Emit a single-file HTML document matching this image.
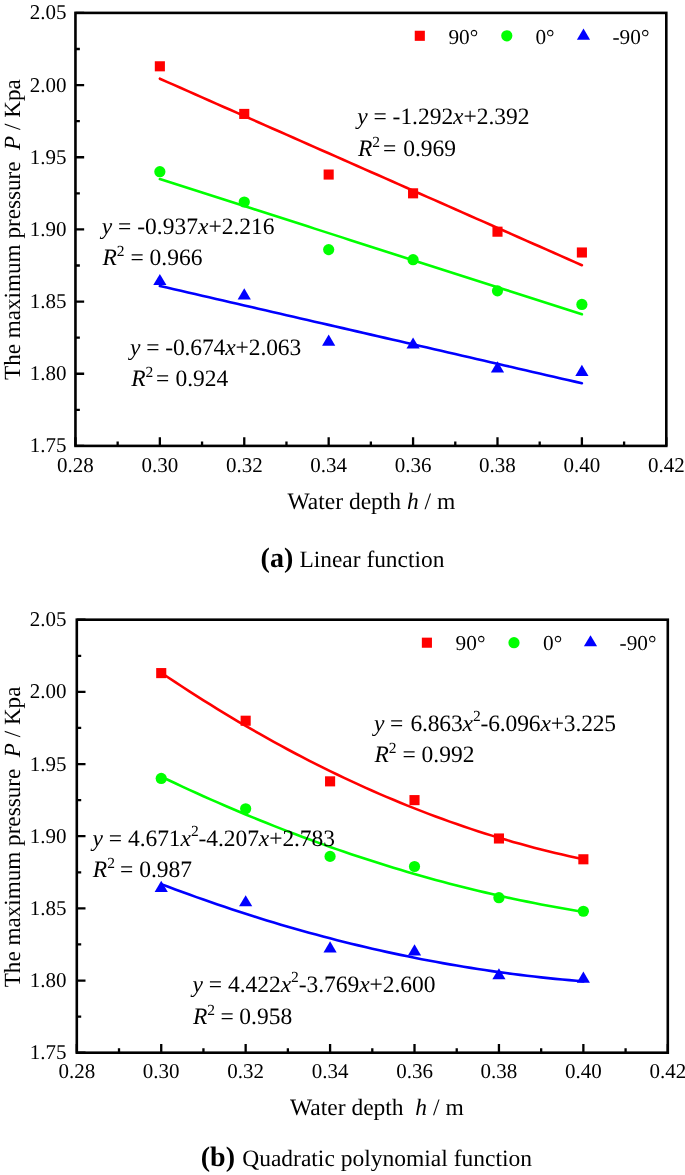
<!DOCTYPE html>
<html><head><meta charset="utf-8"><title>Chart</title><style>
html,body{margin:0;padding:0;background:#fff;}
body{width:685px;height:1175px;overflow:hidden;}
svg{display:block;will-change:transform;}
text{font-family:"Liberation Serif",serif;fill:#000;text-rendering:geometricPrecision;}
</style></head><body>
<svg width="685" height="1175" viewBox="0 0 685 1175">
<rect width="685" height="1175" fill="#fff"/>
<polyline points='159.86,78.72 166.89,81.82 173.92,84.93 180.96,88.04 187.99,91.15 195.03,94.26 202.06,97.36 209.09,100.47 216.13,103.58 223.16,106.69 230.20,109.80 237.23,112.90 244.26,116.01 251.30,119.12 258.33,122.23 265.37,125.34 272.40,128.44 279.43,131.55 286.47,134.66 293.50,137.77 300.54,140.88 307.57,143.98 314.60,147.09 321.64,150.20 328.67,153.31 335.71,156.42 342.74,159.52 349.77,162.63 356.81,165.74 363.84,168.85 370.87,171.96 377.91,175.06 384.94,178.17 391.98,181.28 399.01,184.39 406.04,187.50 413.08,190.60 420.11,193.71 427.15,196.82 434.18,199.93 441.21,203.04 448.25,206.14 455.28,209.25 462.32,212.36 469.35,215.47 476.38,218.58 483.42,221.68 490.45,224.79 497.49,227.90 504.52,231.01 511.55,234.11 518.59,237.22 525.62,240.33 532.66,243.44 539.69,246.55 546.72,249.65 553.76,252.76 560.79,255.87 567.82,258.98 574.86,262.09 581.89,265.19' fill='none' stroke='#ff0000' stroke-width='2.6' stroke-linejoin='round' stroke-linecap='round'/>
<polyline points='159.86,179.03 166.89,181.28 173.92,183.54 180.96,185.79 187.99,188.04 195.03,190.30 202.06,192.55 209.09,194.81 216.13,197.06 223.16,199.31 230.20,201.57 237.23,203.82 244.26,206.08 251.30,208.33 258.33,210.58 265.37,212.84 272.40,215.09 279.43,217.35 286.47,219.60 293.50,221.85 300.54,224.11 307.57,226.36 314.60,228.62 321.64,230.87 328.67,233.12 335.71,235.38 342.74,237.63 349.77,239.89 356.81,242.14 363.84,244.39 370.87,246.65 377.91,248.90 384.94,251.16 391.98,253.41 399.01,255.66 406.04,257.92 413.08,260.17 420.11,262.43 427.15,264.68 434.18,266.93 441.21,269.19 448.25,271.44 455.28,273.70 462.32,275.95 469.35,278.20 476.38,280.46 483.42,282.71 490.45,284.97 497.49,287.22 504.52,289.47 511.55,291.73 518.59,293.98 525.62,296.24 532.66,298.49 539.69,300.74 546.72,303.00 553.76,305.25 560.79,307.51 567.82,309.76 574.86,312.01 581.89,314.27' fill='none' stroke='#00ff00' stroke-width='2.6' stroke-linejoin='round' stroke-linecap='round'/>
<polyline points='159.86,285.98 166.89,287.60 173.92,289.22 180.96,290.84 187.99,292.46 195.03,294.09 202.06,295.71 209.09,297.33 216.13,298.95 223.16,300.57 230.20,302.19 237.23,303.81 244.26,305.43 251.30,307.06 258.33,308.68 265.37,310.30 272.40,311.92 279.43,313.54 286.47,315.16 293.50,316.78 300.54,318.41 307.57,320.03 314.60,321.65 321.64,323.27 328.67,324.89 335.71,326.51 342.74,328.13 349.77,329.75 356.81,331.38 363.84,333.00 370.87,334.62 377.91,336.24 384.94,337.86 391.98,339.48 399.01,341.10 406.04,342.73 413.08,344.35 420.11,345.97 427.15,347.59 434.18,349.21 441.21,350.83 448.25,352.45 455.28,354.08 462.32,355.70 469.35,357.32 476.38,358.94 483.42,360.56 490.45,362.18 497.49,363.80 504.52,365.42 511.55,367.05 518.59,368.67 525.62,370.29 532.66,371.91 539.69,373.53 546.72,375.15 553.76,376.77 560.79,378.40 567.82,380.02 574.86,381.64 581.89,383.26' fill='none' stroke='#0000ff' stroke-width='2.6' stroke-linejoin='round' stroke-linecap='round'/>
<rect x='154.81' y='61.25' width='10.1' height='10.1' fill='#ff0000'/>
<rect x='239.21' y='108.88' width='10.1' height='10.1' fill='#ff0000'/>
<rect x='323.62' y='169.50' width='10.1' height='10.1' fill='#ff0000'/>
<rect x='408.03' y='188.27' width='10.1' height='10.1' fill='#ff0000'/>
<rect x='492.44' y='226.64' width='10.1' height='10.1' fill='#ff0000'/>
<rect x='576.84' y='247.44' width='10.1' height='10.1' fill='#ff0000'/>
<circle cx='159.86' cy='171.67' r='5.6' fill='#00ff00'/>
<circle cx='244.26' cy='201.98' r='5.6' fill='#00ff00'/>
<circle cx='328.67' cy='249.61' r='5.6' fill='#00ff00'/>
<circle cx='413.08' cy='259.71' r='5.6' fill='#00ff00'/>
<circle cx='497.49' cy='290.87' r='5.6' fill='#00ff00'/>
<circle cx='581.89' cy='304.45' r='5.6' fill='#00ff00'/>
<path d='M159.86 273.89L166.46 285.09L153.26 285.09Z' fill='#0000ff'/>
<path d='M244.26 288.33L250.86 299.53L237.66 299.53Z' fill='#0000ff'/>
<path d='M328.67 334.51L335.27 345.71L322.07 345.71Z' fill='#0000ff'/>
<path d='M413.08 337.40L419.68 348.60L406.48 348.60Z' fill='#0000ff'/>
<path d='M497.49 361.34L504.09 372.54L490.89 372.54Z' fill='#0000ff'/>
<path d='M581.89 364.82L588.49 376.02L575.29 376.02Z' fill='#0000ff'/>
<rect x='75.45' y='12.9' width='590.85' height='433.00' fill='none' stroke='#000' stroke-width='2.6'/>
<path d='M75.45 445.90V437.20M117.65 445.90V441.50M159.86 445.90V437.20M202.06 445.90V441.50M244.26 445.90V437.20M286.47 445.90V441.50M328.67 445.90V437.20M370.87 445.90V441.50M413.08 445.90V437.20M455.28 445.90V441.50M497.49 445.90V437.20M539.69 445.90V441.50M581.89 445.90V437.20M624.10 445.90V441.50M666.30 445.90V437.20M75.45 445.90H84.15M75.45 409.82H79.85M75.45 373.73H84.15M75.45 337.65H79.85M75.45 301.57H84.15M75.45 265.48H79.85M75.45 229.40H84.15M75.45 193.32H79.85M75.45 157.23H84.15M75.45 121.15H79.85M75.45 85.07H84.15M75.45 48.98H79.85M75.45 12.90H84.15' stroke='#000' stroke-width='2.3' fill='none'/>
<text x='75.45' y='471.60' font-size='21' text-anchor='middle'>0.28</text>
<text x='159.86' y='471.60' font-size='21' text-anchor='middle'>0.30</text>
<text x='244.26' y='471.60' font-size='21' text-anchor='middle'>0.32</text>
<text x='328.67' y='471.60' font-size='21' text-anchor='middle'>0.34</text>
<text x='413.08' y='471.60' font-size='21' text-anchor='middle'>0.36</text>
<text x='497.49' y='471.60' font-size='21' text-anchor='middle'>0.38</text>
<text x='581.89' y='471.60' font-size='21' text-anchor='middle'>0.40</text>
<text x='666.30' y='471.60' font-size='21' text-anchor='middle'>0.42</text>
<text x='66.60' y='452.40' font-size='21' text-anchor='end'>1.75</text>
<text x='66.60' y='380.23' font-size='21' text-anchor='end'>1.80</text>
<text x='66.60' y='308.07' font-size='21' text-anchor='end'>1.85</text>
<text x='66.60' y='235.90' font-size='21' text-anchor='end'>1.90</text>
<text x='66.60' y='163.73' font-size='21' text-anchor='end'>1.95</text>
<text x='66.60' y='91.57' font-size='21' text-anchor='end'>2.00</text>
<text x='66.60' y='19.40' font-size='21' text-anchor='end'>2.05</text>
<rect x='414.75' y='30.75' width='10.1' height='10.1' fill='#ff0000'/>
<text x='448.4' y='43.8' font-size='21.3'>90°</text>
<circle cx='506.80' cy='35.80' r='5.6' fill='#00ff00'/>
<text x='535.4' y='43.8' font-size='21.3'>0°</text>
<path d='M583.50 28.53L590.10 39.73L576.90 39.73Z' fill='#0000ff'/>
<text x='612.5' y='43.8' font-size='21.3'>-90°</text>
<text x='357.3' y='124.1' font-size='23.5' letter-spacing='-0.035'><tspan font-style='italic'>y</tspan> = <tspan dx='0'>-1.292</tspan><tspan font-style='italic'>x</tspan>+2.392</text>
<text x='358' y='155.5' font-size='23.5'><tspan font-style='italic'>R</tspan><tspan font-size='15.51' dy='-8.93'>2</tspan><tspan dy='8.93'> </tspan><tspan dx='-2.9'>=</tspan><tspan dx='1.0'> 0.969</tspan></text>
<text x='101.8' y='234.3' font-size='23.5' letter-spacing='0'><tspan font-style='italic'>y</tspan> = <tspan dx='0'>-0.937</tspan><tspan font-style='italic'>x</tspan>+2.216</text>
<text x='102.4' y='264.9' font-size='23.5'><tspan font-style='italic'>R</tspan><tspan font-size='15.51' dy='-8.93'>2</tspan><tspan dy='8.93'> </tspan><tspan dx='0'>=</tspan><tspan dx='0'> 0.966</tspan></text>
<text x='130.1' y='354.5' font-size='23.5' letter-spacing='-0.1'><tspan font-style='italic'>y</tspan> = <tspan dx='0'>-0.674</tspan><tspan font-style='italic'>x</tspan>+2.063</text>
<text x='131.2' y='386.2' font-size='23.5'><tspan font-style='italic'>R</tspan><tspan font-size='15.51' dy='-8.93'>2</tspan><tspan dy='8.93'> </tspan><tspan dx='-3.1'>=</tspan><tspan dx='0.2'> 0.924</tspan></text>
<text x='287.5' y='508.5' font-size='23.5' xml:space='preserve'>Water depth <tspan font-style='italic'>h</tspan> / m</text>
<text transform='translate(19.6,380.0) rotate(-90)' x='0' y='0' font-size='23.15' xml:space='preserve'>The maximum pressure  <tspan font-style='italic'>P</tspan> / Kpa</text>
<text x='260.6' y='567' font-size='28' font-weight='bold'>(a)</text>
<text x='299.5' y='567' font-size='23.4'>Linear function</text>
<polyline points='161.23,672.75 168.26,677.48 175.30,682.15 182.34,686.78 189.37,691.34 196.41,695.85 203.44,700.31 210.48,704.71 217.51,709.06 224.55,713.35 231.59,717.58 238.62,721.76 245.66,725.89 252.69,729.96 259.73,733.98 266.76,737.94 273.80,741.84 280.84,745.69 287.87,749.49 294.91,753.23 301.94,756.91 308.98,760.55 316.01,764.12 323.05,767.64 330.09,771.11 337.12,774.52 344.16,777.87 351.19,781.17 358.23,784.42 365.26,787.61 372.30,790.74 379.34,793.82 386.37,796.85 393.41,799.82 400.44,802.73 407.48,805.59 414.51,808.40 421.55,811.15 428.59,813.84 435.62,816.48 442.66,819.07 449.69,821.60 456.73,824.07 463.76,826.49 470.80,828.86 477.84,831.17 484.87,833.42 491.91,835.62 498.94,837.77 505.98,839.86 513.01,841.89 520.05,843.87 527.09,845.80 534.12,847.67 541.16,849.48 548.19,851.24 555.23,852.94 562.26,854.59 569.30,856.19 576.34,857.73 583.37,859.21' fill='none' stroke='#ff0000' stroke-width='2.6' stroke-linejoin='round' stroke-linecap='round'/>
<polyline points='161.23,776.60 168.26,779.96 175.30,783.29 182.34,786.57 189.37,789.82 196.41,793.03 203.44,796.20 210.48,799.34 217.51,802.43 224.55,805.49 231.59,808.52 238.62,811.50 245.66,814.45 252.69,817.36 259.73,820.23 266.76,823.07 273.80,825.86 280.84,828.62 287.87,831.35 294.91,834.03 301.94,836.68 308.98,839.29 316.01,841.86 323.05,844.40 330.09,846.90 337.12,849.36 344.16,851.78 351.19,854.17 358.23,856.52 365.26,858.83 372.30,861.10 379.34,863.34 386.37,865.54 393.41,867.70 400.44,869.82 407.48,871.91 414.51,873.96 421.55,875.97 428.59,877.94 435.62,879.88 442.66,881.78 449.69,883.64 456.73,885.46 463.76,887.25 470.80,889.00 477.84,890.71 484.87,892.38 491.91,894.02 498.94,895.62 505.98,897.18 513.01,898.70 520.05,900.19 527.09,901.64 534.12,903.05 541.16,904.43 548.19,905.76 555.23,907.06 562.26,908.33 569.30,909.55 576.34,910.74 583.37,911.89' fill='none' stroke='#00ff00' stroke-width='2.6' stroke-linejoin='round' stroke-linecap='round'/>
<polyline points='161.23,884.13 168.26,886.79 175.30,889.42 182.34,892.02 189.37,894.58 196.41,897.10 203.44,899.59 210.48,902.05 217.51,904.46 224.55,906.85 231.59,909.19 238.62,911.51 245.66,913.78 252.69,916.02 259.73,918.23 266.76,920.40 273.80,922.53 280.84,924.63 287.87,926.70 294.91,928.72 301.94,930.72 308.98,932.67 316.01,934.60 323.05,936.48 330.09,938.33 337.12,940.15 344.16,941.93 351.19,943.67 358.23,945.38 365.26,947.06 372.30,948.69 379.34,950.30 386.37,951.86 393.41,953.39 400.44,954.89 407.48,956.35 414.51,957.78 421.55,959.17 428.59,960.52 435.62,961.84 442.66,963.12 449.69,964.37 456.73,965.59 463.76,966.76 470.80,967.90 477.84,969.01 484.87,970.08 491.91,971.12 498.94,972.12 505.98,973.08 513.01,974.01 520.05,974.90 527.09,975.76 534.12,976.58 541.16,977.37 548.19,978.12 555.23,978.84 562.26,979.52 569.30,980.16 576.34,980.77 583.37,981.35' fill='none' stroke='#0000ff' stroke-width='2.6' stroke-linejoin='round' stroke-linecap='round'/>
<rect x='156.18' y='668.05' width='10.1' height='10.1' fill='#ff0000'/>
<rect x='240.61' y='715.68' width='10.1' height='10.1' fill='#ff0000'/>
<rect x='325.04' y='776.30' width='10.1' height='10.1' fill='#ff0000'/>
<rect x='409.46' y='795.07' width='10.1' height='10.1' fill='#ff0000'/>
<rect x='493.89' y='833.44' width='10.1' height='10.1' fill='#ff0000'/>
<rect x='578.32' y='854.24' width='10.1' height='10.1' fill='#ff0000'/>
<circle cx='161.23' cy='778.47' r='5.6' fill='#00ff00'/>
<circle cx='245.66' cy='808.78' r='5.6' fill='#00ff00'/>
<circle cx='330.09' cy='856.41' r='5.6' fill='#00ff00'/>
<circle cx='414.51' cy='866.51' r='5.6' fill='#00ff00'/>
<circle cx='498.94' cy='897.67' r='5.6' fill='#00ff00'/>
<circle cx='583.37' cy='911.25' r='5.6' fill='#00ff00'/>
<path d='M161.23 880.69L167.83 891.89L154.63 891.89Z' fill='#0000ff'/>
<path d='M245.66 895.13L252.26 906.33L239.06 906.33Z' fill='#0000ff'/>
<path d='M330.09 941.31L336.69 952.51L323.49 952.51Z' fill='#0000ff'/>
<path d='M414.51 944.20L421.11 955.40L407.91 955.40Z' fill='#0000ff'/>
<path d='M498.94 968.14L505.54 979.34L492.34 979.34Z' fill='#0000ff'/>
<path d='M583.37 971.62L589.97 982.82L576.77 982.82Z' fill='#0000ff'/>
<rect x='76.8' y='619.7' width='591.00' height='433.00' fill='none' stroke='#000' stroke-width='2.6'/>
<path d='M76.80 1052.70V1044.00M119.01 1052.70V1048.30M161.23 1052.70V1044.00M203.44 1052.70V1048.30M245.66 1052.70V1044.00M287.87 1052.70V1048.30M330.09 1052.70V1044.00M372.30 1052.70V1048.30M414.51 1052.70V1044.00M456.73 1052.70V1048.30M498.94 1052.70V1044.00M541.16 1052.70V1048.30M583.37 1052.70V1044.00M625.59 1052.70V1048.30M667.80 1052.70V1044.00M76.80 1052.70H85.50M76.80 1016.62H81.20M76.80 980.53H85.50M76.80 944.45H81.20M76.80 908.37H85.50M76.80 872.28H81.20M76.80 836.20H85.50M76.80 800.12H81.20M76.80 764.03H85.50M76.80 727.95H81.20M76.80 691.87H85.50M76.80 655.78H81.20M76.80 619.70H85.50' stroke='#000' stroke-width='2.3' fill='none'/>
<text x='76.80' y='1078.40' font-size='21' text-anchor='middle'>0.28</text>
<text x='161.23' y='1078.40' font-size='21' text-anchor='middle'>0.30</text>
<text x='245.66' y='1078.40' font-size='21' text-anchor='middle'>0.32</text>
<text x='330.09' y='1078.40' font-size='21' text-anchor='middle'>0.34</text>
<text x='414.51' y='1078.40' font-size='21' text-anchor='middle'>0.36</text>
<text x='498.94' y='1078.40' font-size='21' text-anchor='middle'>0.38</text>
<text x='583.37' y='1078.40' font-size='21' text-anchor='middle'>0.40</text>
<text x='667.80' y='1078.40' font-size='21' text-anchor='middle'>0.42</text>
<text x='66.60' y='1059.20' font-size='21' text-anchor='end'>1.75</text>
<text x='66.60' y='987.03' font-size='21' text-anchor='end'>1.80</text>
<text x='66.60' y='914.87' font-size='21' text-anchor='end'>1.85</text>
<text x='66.60' y='842.70' font-size='21' text-anchor='end'>1.90</text>
<text x='66.60' y='770.53' font-size='21' text-anchor='end'>1.95</text>
<text x='66.60' y='698.37' font-size='21' text-anchor='end'>2.00</text>
<text x='66.60' y='626.20' font-size='21' text-anchor='end'>2.05</text>
<rect x='421.85' y='637.65' width='10.1' height='10.1' fill='#ff0000'/>
<text x='455.6' y='650.3' font-size='21.3'>90°</text>
<circle cx='514.00' cy='642.70' r='5.6' fill='#00ff00'/>
<text x='543.0' y='650.3' font-size='21.3'>0°</text>
<path d='M590.50 635.13L597.10 646.33L583.90 646.33Z' fill='#0000ff'/>
<text x='619.6' y='650.3' font-size='21.3'>-90°</text>
<text x='374' y='730.5' font-size='23.5' letter-spacing='-0.14'><tspan font-style='italic'>y</tspan> = <tspan dx='1.5'>6.863</tspan><tspan font-style='italic'>x</tspan><tspan font-size='15.51' dy='-9.87'>2</tspan><tspan dy='9.87'>-6.096</tspan><tspan font-style='italic'>x</tspan>+3.225</text>
<text x='374.4' y='761.6' font-size='23.5'><tspan font-style='italic'>R</tspan><tspan font-size='15.51' dy='-8.93'>2</tspan><tspan dy='8.93'> </tspan><tspan dx='0'>=</tspan><tspan dx='0'> 0.992</tspan></text>
<text x='92.6' y='845.6' font-size='23.5' letter-spacing='-0.074'><tspan font-style='italic'>y</tspan> = <tspan dx='0.3'>4.671</tspan><tspan font-style='italic'>x</tspan><tspan font-size='15.51' dy='-9.87'>2</tspan><tspan dy='9.87'>-4.207</tspan><tspan font-style='italic'>x</tspan>+2.783</text>
<text x='92.8' y='876.7' font-size='23.5'><tspan font-style='italic'>R</tspan><tspan font-size='15.51' dy='-8.93'>2</tspan><tspan dy='8.93'> </tspan><tspan dx='-0.8'>=</tspan><tspan dx='0'> 0.987</tspan></text>
<text x='192.6' y='991.9' font-size='23.5' letter-spacing='-0.05'><tspan font-style='italic'>y</tspan> = <tspan dx='0.2'>4.422</tspan><tspan font-style='italic'>x</tspan><tspan font-size='15.51' dy='-9.87'>2</tspan><tspan dy='9.87'>-3.769</tspan><tspan font-style='italic'>x</tspan>+2.600</text>
<text x='193.0' y='1023.8' font-size='23.5'><tspan font-style='italic'>R</tspan><tspan font-size='15.51' dy='-8.93'>2</tspan><tspan dy='8.93'> </tspan><tspan dx='-0.4'>=</tspan><tspan dx='-0.4'> 0.958</tspan></text>
<text x='290' y='1114.9' font-size='23.5' xml:space='preserve'>Water depth  <tspan font-style='italic'>h</tspan> / m</text>
<text transform='translate(20.3,987.3) rotate(-90)' x='0' y='0' font-size='23.15' xml:space='preserve'>The maximum pressure  <tspan font-style='italic'>P</tspan> / Kpa</text>
<text x='200.8' y='1166.4' font-size='28' font-weight='bold'>(b)</text>
<text x='242.2' y='1166.4' font-size='23.5'>Quadratic polynomial function</text>
</svg>
</body></html>
